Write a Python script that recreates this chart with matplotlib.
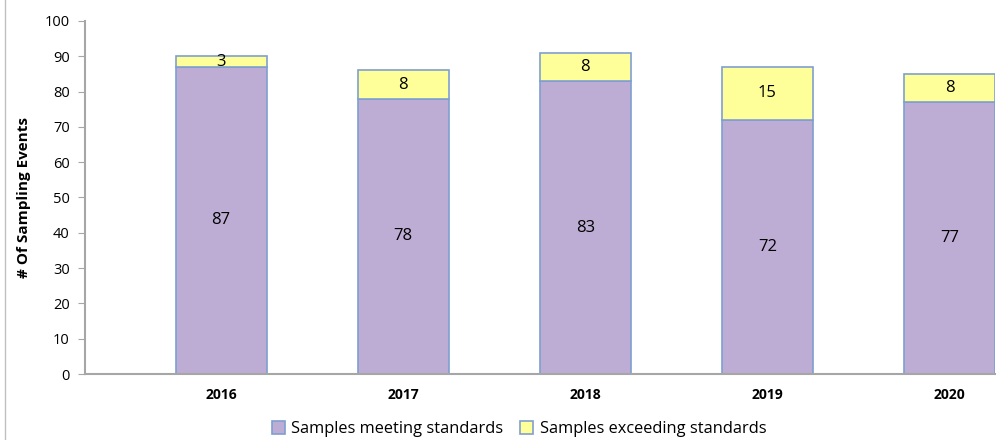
import matplotlib.pyplot as plt
import numpy as np
from matplotlib.lines import Line2D

years = ['2016', '2017', '2018', '2019', '2020']
meeting = [87, 78, 83, 72, 77]
exceeding = [3, 8, 8, 15, 8]

plt.rcParams['font.family'] = ['Open Sans', 'DejaVu Sans']

fig = plt.figure(figsize=(10.03, 4.4), dpi=100)
ax = fig.add_axes([85/1003, 1-374/440, 910/1003, 353/440])

x = np.arange(len(years))
w = 0.5
edge = '#7F9FD0'
b1 = ax.bar(x, meeting, w, color='#BDADD4', edgecolor=edge, linewidth=1.2,
            label='Samples meeting standards')
b2 = ax.bar(x, exceeding, w, bottom=meeting, color='#FFFF99', edgecolor=edge,
            linewidth=1.2, label='Samples exceeding standards')

for i in range(len(years)):
    ax.text(x[i], meeting[i] / 2, str(meeting[i]), ha='center', va='center', fontsize=12)
    ax.text(x[i], meeting[i] + exceeding[i] / 2, str(exceeding[i]), ha='center',
            va='center', fontsize=12)

ax.set_xlim(-0.747, 4.25)
ax.set_ylim(0, 100)
ax.set_yticks(range(0, 101, 10))
ax.set_xticks(x)
ax.set_xticklabels(years, fontweight='bold', fontsize=10)
ax.tick_params(axis='x', length=0, pad=10)
ax.tick_params(axis='y', length=5, color='#A6A6A6', labelsize=10.5, pad=6)
for s in ['top', 'right']:
    ax.spines[s].set_visible(False)
for s in ['left', 'bottom']:
    ax.spines[s].set_color('#A6A6A6')
    ax.spines[s].set_linewidth(1.5)

ax.set_ylabel('# Of Sampling Events', fontweight='bold', fontsize=11, labelpad=10)

fig.legend(handles=[b1, b2], loc='center', bbox_to_anchor=(519/1003, 1-429/440),
           ncol=2, frameon=False, fontsize=11.8, handlelength=0.8, handleheight=0.8,
           handletextpad=0.4, columnspacing=1.0)

fig.add_artist(Line2D([5/1003, 5/1003], [0, 1], transform=fig.transFigure,
                      color='#C0C0C0', linewidth=1))

fig.savefig('out.png', dpi=100)
